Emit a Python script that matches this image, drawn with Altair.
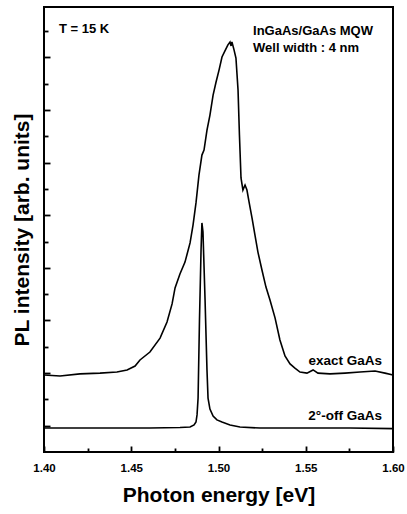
import altair as alt
import pandas as pd

# ---- data ----
EXACT_E = [1.4000, 1.4092, 1.4206, 1.4321, 1.4418, 1.4476, 1.4522, 1.4550, 1.4607, 1.4665,
           1.4705, 1.4734, 1.4751, 1.4779, 1.4808, 1.4837, 1.4854, 1.4871, 1.4888, 1.4905,
           1.4917, 1.4934, 1.4951, 1.4969, 1.4986, 1.5003, 1.5020, 1.5037, 1.5054, 1.5066,
           1.5072, 1.5077, 1.5089, 1.5100, 1.5112, 1.5120, 1.5129, 1.5140, 1.5152, 1.5163,
           1.5175, 1.5192, 1.5209, 1.5226, 1.5249, 1.5272, 1.5295, 1.5324, 1.5352, 1.5381,
           1.5410, 1.5438, 1.5467, 1.5507, 1.5542, 1.5570, 1.5639, 1.5725, 1.5811, 1.5897,
           1.5954, 1.6000]
EXACT_I = [1.93, 1.89, 1.97, 2.00, 2.04, 2.12, 2.27, 2.50, 2.80, 3.33,
           3.94, 4.63, 5.24, 5.77, 6.22, 6.95, 7.63, 8.47, 9.53, 10.29,
           10.48, 11.24, 11.81, 12.57, 13.07, 13.52, 14.02, 14.25, 14.48, 14.59,
           14.44, 14.59, 14.29, 13.98, 12.76, 11.05, 9.42, 8.96, 9.15, 8.96,
           8.51, 7.90, 7.25, 6.60, 5.92, 5.27, 4.78, 4.10, 3.26, 2.65,
           2.35, 2.19, 2.04, 2.00, 2.12, 2.00, 1.97, 2.00, 2.04, 2.08,
           2.00, 1.93]

OFF_E = [1.4000, 1.4321, 1.4607, 1.4779, 1.4837, 1.4860, 1.4871, 1.4877, 1.4883, 1.4891,
         1.4900, 1.4905, 1.4911, 1.4923, 1.4934, 1.4940, 1.4951, 1.4969, 1.4991, 1.5020,
         1.5066, 1.5123, 1.5238, 1.5467, 1.5754, 1.6000]
OFF_I = [-0.09, -0.09, -0.09, -0.07, -0.05, 0.03, 0.14, 0.41, 1.05, 4.02,
         6.68, 7.71, 7.37, 4.78, 2.12, 1.05, 0.63, 0.37, 0.22, 0.14,
         0.03, -0.05, -0.09, -0.09, -0.09, -0.11]

X_MAJOR = [1.40, 1.45, 1.50, 1.55, 1.60]
X_MINOR = [1.425, 1.475, 1.525, 1.575]
Y_MAJOR = [0, 2, 4, 6, 8, 10, 12, 14]
Y_MINOR = [1, 3, 5, 7, 9, 11, 13, 15]

LEFT_TEXT = ["T = 15 K", "InGaAs/GaAs MQW", "Well width : 4 nm"]
LEFT_TEXT_E = [1.4086, 1.5198, 1.5198]
LEFT_TEXT_I = [14.93, 14.86, 14.21]

RIGHT_TEXT = ["exact GaAs", "2°-off GaAs"]
RIGHT_TEXT_E = [1.5937, 1.5937]
RIGHT_TEXT_I = [2.31, 0.22]

# ---- tables ----
lines = pd.concat([
    pd.DataFrame({"E": EXACT_E, "I": EXACT_I, "series": "exact GaAs"}),
    pd.DataFrame({"E": OFF_E, "I": OFF_I, "series": "2-off GaAs"}),
])
left_df = pd.DataFrame({"E": LEFT_TEXT_E, "I": LEFT_TEXT_I, "t": LEFT_TEXT})
right_df = pd.DataFrame({"E": RIGHT_TEXT_E, "I": RIGHT_TEXT_I, "t": RIGHT_TEXT})

FONT = "Liberation Sans"
W, H = 349, 445
xs = alt.Scale(domain=[1.40, 1.60], nice=False, zero=False)
ys = alt.Scale(domain=[-1, 15.92], nice=False, zero=False)

# label / title axes (no ticks)
ax_x_main = alt.Axis(orient="bottom", values=X_MAJOR, format=".2f", ticks=False, tickSize=0,
                     domain=False, grid=False, labelPadding=10, labelFlush=False,
                     labelOverlap=False, labelFont=FONT, labelFontSize=11.5,
                     labelFontWeight="bold", labelColor="black",
                     title="Photon energy [eV]", titleFont=FONT,
                     titleFontSize=21, titleFontWeight="bold", titleColor="black",
                     titlePadding=11)
ax_y_main = alt.Axis(orient="left", values=Y_MAJOR, labels=False, ticks=False, tickSize=0,
                     domain=False, grid=False,
                     title="PL intensity [arb. units]", titleFont=FONT, titleFontSize=21,
                     titleFontWeight="bold", titleColor="black", titlePadding=12)


def tick_axes(xvals, yvals, size):
    # inward ticks: top axis moved down to the bottom edge, right axis moved to the left edge
    ax = alt.Axis(orient="top", values=xvals, labels=False, tickSize=size, offset=-H,
                  domain=False, grid=False, tickColor="black", tickWidth=1.8, title="")
    ay = alt.Axis(orient="right", values=yvals, labels=False, tickSize=size, offset=-W,
                  domain=False, grid=False, tickColor="black", tickWidth=1.8, title="")
    return ax, ay


ax_x_maj, ax_y_maj = tick_axes(X_MAJOR, Y_MAJOR, 6)
ax_x_min, ax_y_min = tick_axes(X_MINOR, Y_MINOR, 4)

line_layer = alt.Chart(lines).mark_line(color="black", strokeWidth=1.6).encode(
    x=alt.X("E:Q", scale=xs, axis=ax_x_main),
    y=alt.Y("I:Q", scale=ys, axis=ax_y_main),
    detail="series:N",
)

left_layer = alt.Chart(left_df).mark_text(
    align="left", baseline="alphabetic", font=FONT, fontSize=13, fontWeight="bold", color="black"
).encode(
    x=alt.X("E:Q", scale=xs, axis=ax_x_maj),
    y=alt.Y("I:Q", scale=ys, axis=ax_y_maj),
    text="t:N",
)

right_layer = alt.Chart(right_df).mark_text(
    align="right", baseline="alphabetic", font=FONT, fontSize=13.5, fontWeight="bold", color="black"
).encode(
    x=alt.X("E:Q", scale=xs, axis=ax_x_min),
    y=alt.Y("I:Q", scale=ys, axis=ax_y_min),
    text="t:N",
)

chart = alt.layer(line_layer, left_layer, right_layer).resolve_axis(
    x="independent", y="independent"
).properties(
    width=W, height=H,
    autosize=alt.AutoSizeParams(type="none"),
    padding={"left": 44, "top": 7, "right": 14, "bottom": 62},
    background="white",
).configure_view(stroke="black", strokeWidth=2)

chart.save("out.html", embed_options={"renderer": "svg", "actions": False})
